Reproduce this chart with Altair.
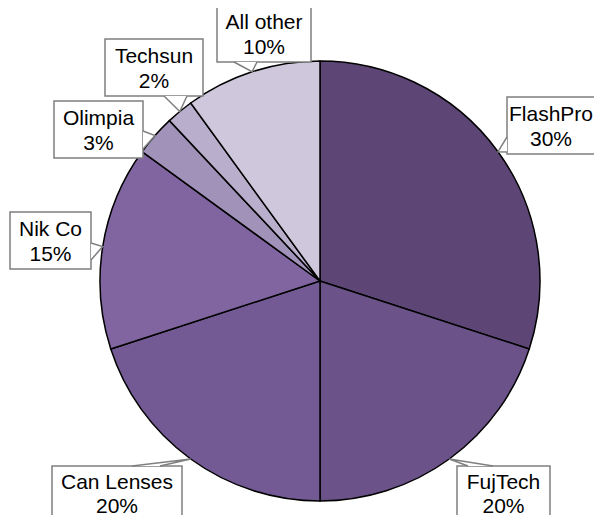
import math
import altair as alt
import pandas as pd

# ---- data ----
labels = ["FlashPro", "FujTech", "Can Lenses", "Nik Co", "Olimpia", "Techsun", "All other"]
shares = [30, 20, 20, 15, 3, 2, 10]
colors = ["#5D4675", "#6B5289", "#735A94", "#8165A1", "#A192B9", "#B9AECB", "#CFC7DC"]

# ---- layout (image pixel coords, view origin is at 8,8) ----
W, H = 586, 507
OFF = 8
CX, CY, R = 320 - OFF, 281 - OFF, 220
# box: x0, y0, x1, y1 ; wedge base points (bx1, by1, bx2, by2) ; text centre x ; line offsets
boxes = {
    "FlashPro": (507, 97, 640, 154, (507, 137, 507, 152), 551, (18, 42.5)),
    "FujTech": (457, 466, 550, 560, (468, 466, 493, 466), 503.5, (17, 40.5)),
    "Can Lenses": (52, 466, 182, 560, (132, 466, 160, 466), 117, (17, 40.5)),
    "Nik Co": (10, 212, 91, 269, (91, 243, 91, 260), 50.5, (18, 42.5)),
    "Olimpia": (54, 101, 143, 158, (143, 131, 143, 149), 98.5, (18, 42.5)),
    "Techsun": (105, 39, 203, 96, (164, 96, 187, 96), 154, (18, 42.5)),
    "All other": (217, 5, 311, 62, (234, 62, 257, 62), 264, (18, 42.5)),
}

total = sum(shares)
pie_df = pd.DataFrame({"label": labels, "share": shares, "idx": list(range(len(labels)))})

rect_rows, text_rows, wedge_rows = [], [], []
cum = 0
for lab, s in zip(labels, shares):
    mid = (cum + s / 2) / total * 2 * math.pi
    cum += s
    ax = CX + R * math.sin(mid)
    ay = CY - R * math.cos(mid)
    x0, y0, x1, y1, (bx1, by1, bx2, by2), tx, (l1, l2) = boxes[lab]
    rect_rows.append({"label": lab, "x": x0 - OFF, "x2": x1 - OFF, "y": y0 - OFF, "y2": y1 - OFF})
    text_rows.append({"label": lab, "t": lab, "x": tx - OFF, "y": y0 + l1 - OFF})
    text_rows.append({"label": lab, "t": f"{s}%", "x": tx - OFF, "y": y0 + l2 - OFF})
    wedge_rows += [
        {"label": lab, "o": 0, "x": bx1 - OFF, "y": by1 - OFF},
        {"label": lab, "o": 1, "x": ax, "y": ay},
        {"label": lab, "o": 2, "x": bx2 - OFF, "y": by2 - OFF},
    ]

xs = alt.Scale(domain=[0, W], range=[0, W], nice=False, zero=False)
ys = alt.Scale(domain=[0, H], range=[0, H], nice=False, zero=False)

pie = alt.Chart(pie_df).mark_arc(radius=R, stroke="black", strokeWidth=1.5).encode(
    theta=alt.Theta("share:Q", stack=True),
    order=alt.Order("idx:Q"),
    color=alt.Color("label:N", scale=alt.Scale(domain=labels, range=colors), legend=None),
    x=alt.value(CX),
    y=alt.value(CY),
)

rects = alt.Chart(pd.DataFrame(rect_rows)).mark_rect(
    fill="white", stroke="#7F7F7F", strokeWidth=1.5
).encode(
    x=alt.X("x:Q", scale=xs, axis=None),
    x2="x2:Q",
    y=alt.Y("y:Q", scale=ys, axis=None),
    y2="y2:Q",
)

wedges = alt.Chart(pd.DataFrame(wedge_rows)).mark_line(
    fill="white", stroke="#7F7F7F", strokeWidth=1.5
).encode(
    x=alt.X("x:Q", scale=xs, axis=None),
    y=alt.Y("y:Q", scale=ys, axis=None),
    detail="label:N",
    order="o:Q",
)

texts = alt.Chart(pd.DataFrame(text_rows)).mark_text(
    font="Liberation Sans", fontSize=21, color="black", align="center", baseline="middle"
).encode(
    x=alt.X("x:Q", scale=xs, axis=None),
    y=alt.Y("y:Q", scale=ys, axis=None),
    text="t:N",
)

chart = alt.layer(pie, rects, wedges, texts).properties(
    width=W, height=H, padding=0, autosize=alt.AutoSizeParams(type="none")
).configure_view(stroke=None)

chart.save("out.html", embed_options={"renderer": "svg", "actions": False})
